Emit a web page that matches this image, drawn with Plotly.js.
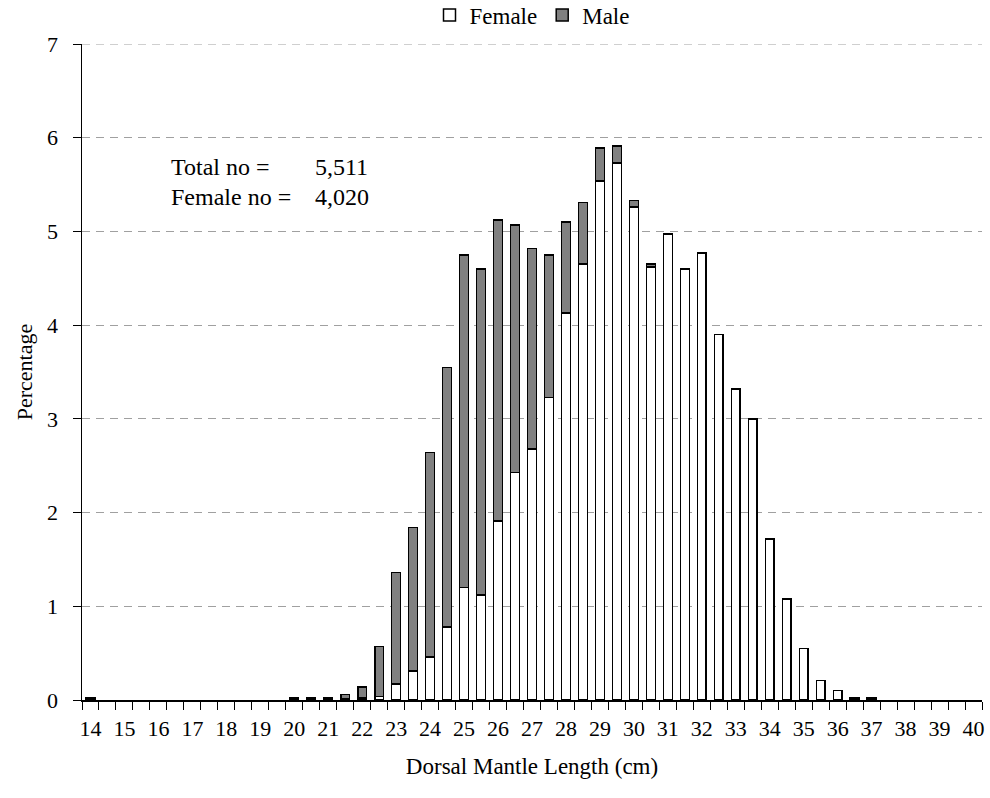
<!DOCTYPE html>
<html>
<head>
<meta charset="utf-8">
<script src="https://cdn.plot.ly/plotly-3.0.1.min.js"></script>
<style>
  html, body { margin: 0; padding: 0; background: #ffffff; }
  #chart { width: 990px; height: 798px; }
</style>
</head>
<body>
<div id="chart"></div>
<script>
// Dorsal mantle length classes (cm), 0.5 cm bins
const lengths = [
  14, 14.5, 15, 15.5, 16, 16.5, 17, 17.5, 18, 18.5, 19, 19.5, 20, 20.5, 21,
  21.5, 22, 22.5, 23, 23.5, 24, 24.5, 25, 25.5, 26, 26.5, 27, 27.5, 28, 28.5,
  29, 29.5, 30, 30.5, 31, 31.5, 32, 32.5, 33, 33.5, 34, 34.5, 35, 35.5, 36,
  36.5, 37, 37.5, 38, 38.5, 39, 39.5, 40
];

// Percentage of all animals in each class, by sex
const female = [
  0, 0, 0, 0, 0, 0, 0, 0, 0, 0, 0, 0, 0, 0, 0,
  0.01, 0.02, 0.04, 0.17, 0.31, 0.46, 0.78, 1.20, 1.12, 1.91, 2.43, 2.68, 3.23, 4.13, 4.65,
  5.54, 5.73, 5.26, 4.62, 4.97, 4.60, 4.77, 3.90, 3.32, 3.00, 1.72, 1.08, 0.55, 0.21, 0.10,
  0.02, 0.02, 0, 0, 0, 0, 0, 0
];
const male = [
  0.02, 0, 0, 0, 0, 0, 0, 0, 0, 0, 0, 0, 0.02, 0.02, 0.02,
  0.05, 0.12, 0.53, 1.19, 1.53, 2.18, 2.77, 3.55, 3.48, 3.21, 2.64, 2.14, 1.52, 0.97, 0.66,
  0.35, 0.18, 0.07, 0.03, 0, 0, 0, 0, 0, 0, 0, 0, 0, 0, 0,
  0, 0, 0, 0, 0, 0, 0, 0
];

// Axis labels every whole centimetre
const tickValues = [14, 15, 16, 17, 18, 19, 20, 21, 22, 23, 24, 25, 26, 27,
                    28, 29, 30, 31, 32, 33, 34, 35, 36, 37, 38, 39, 40];
const tickLabels = tickValues.map(String);

const totalCount = "5,511";
const femaleCount = "4,020";

const FONT = "Liberation Serif, Times New Roman, serif";

// empty classes get no bar at all
const nonEmpty = v => (v > 0 ? v : null);

const traces = [
  {
    type: "bar", name: "Female", x: lengths, y: female.map(nonEmpty),
    marker: { color: "#ffffff", line: { color: "#000000", width: 1.5 } },
    hoverinfo: "x+y+name"
  },
  {
    type: "bar", name: "Male", x: lengths, y: male.map(nonEmpty),
    marker: { color: "#808080", line: { color: "#000000", width: 1.5 } },
    hoverinfo: "x+y+name"
  }
];

const layout = {
  width: 990, height: 798,
  margin: { l: 82, r: 8, t: 44, b: 98, autoexpand: false },
  paper_bgcolor: "#ffffff", plot_bgcolor: "#ffffff",
  font: { family: FONT, size: 22, color: "#000000" },
  barmode: "stack",
  bargap: 0.48,
  showlegend: true,
  legend: {
    orientation: "h", x: 0.5, xanchor: "center", y: (700 - 15) / 656, yanchor: "middle",
    font: { family: FONT, size: 23, color: "#000000" },
    traceorder: "normal", itemwidth: 30, bgcolor: "rgba(0,0,0,0)"
  },
  xaxis: {
    type: "linear",
    range: [13.75, 40.25],
    tickmode: "array", tickvals: tickValues, ticktext: tickLabels,
    ticks: "outside", ticklen: 8, tickcolor: "rgba(0,0,0,0)",
    minor: { tickmode: "linear", tick0: 13.75, dtick: 0.5, ticks: "outside",
             ticklen: 8, tickcolor: "#000000", tickwidth: 1, showgrid: false },
    showline: true, linecolor: "#000000", linewidth: 1.5,
    showgrid: false, zeroline: false,
    tickfont: { family: FONT, size: 22, color: "#000000" },
    title: { text: "Dorsal Mantle Length (cm)", standoff: 18, font: { family: FONT, size: 23 } },
    automargin: false,
    fixedrange: true
  },
  yaxis: {
    range: [0, 7], dtick: 1, tick0: 0,
    ticks: "outside", ticklen: 8, tickcolor: "#000000", tickwidth: 1,
    ticklabelstandoff: 10,
    showline: true, linecolor: "#000000", linewidth: 1.5,
    showgrid: true, gridcolor: "#a0a0a0", gridwidth: 1, griddash: "8px,6px",
    zeroline: false,
    tickfont: { family: FONT, size: 22, color: "#000000" },
    title: { text: "Percentage", standoff: 8, font: { family: FONT, size: 22 } },
    automargin: false,
    fixedrange: true
  },
  shapes: [
    // dashed gridline along the top of the value axis
    { type: "line", xref: "paper", yref: "y", x0: 0, x1: 1, y0: 7, y1: 7,
      line: { color: "#a0a0a0", width: 1, dash: "8px,6px" } }
  ],
  annotations: [
    { xref: "paper", yref: "paper", x: (169 - 82) / 900, y: (700 - 167) / 656, xanchor: "left", yanchor: "middle",
      text: "Total no =", showarrow: false, font: { family: FONT, size: 24 } },
    { xref: "paper", yref: "paper", x: (313 - 82) / 900, y: (700 - 167) / 656, xanchor: "left", yanchor: "middle",
      text: totalCount, showarrow: false, font: { family: FONT, size: 24 } },
    { xref: "paper", yref: "paper", x: (169 - 82) / 900, y: (700 - 197) / 656, xanchor: "left", yanchor: "middle",
      text: "Female no =", showarrow: false, font: { family: FONT, size: 24 } },
    { xref: "paper", yref: "paper", x: (313 - 82) / 900, y: (700 - 197) / 656, xanchor: "left", yanchor: "middle",
      text: femaleCount, showarrow: false, font: { family: FONT, size: 24 } }
  ]
};

Plotly.newPlot("chart", traces, layout, { staticPlot: true, displayModeBar: false });
</script>
</body>
</html>
